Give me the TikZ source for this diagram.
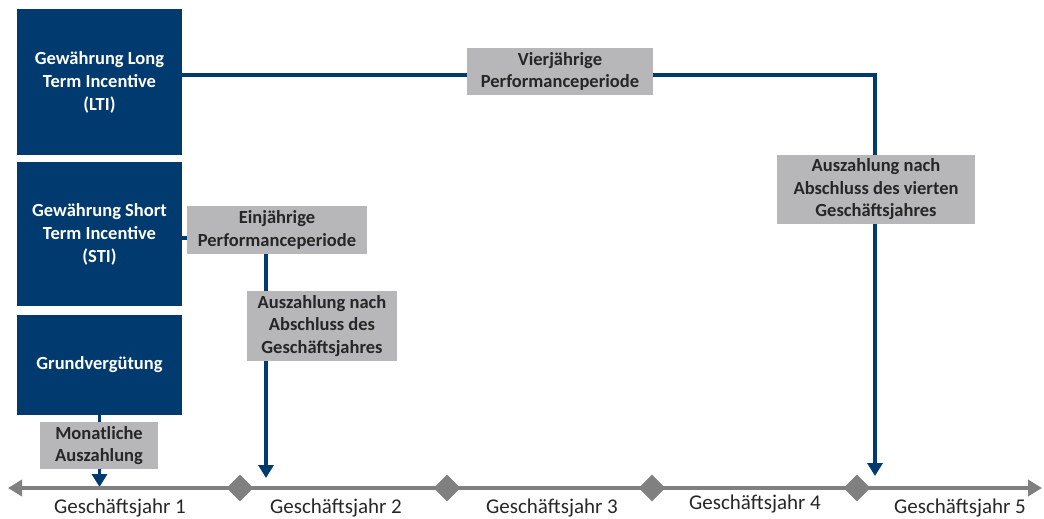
\documentclass[tikz,border=0pt]{standalone}
\usepackage{fontspec}
\setmainfont{Carlito}
\usetikzlibrary{positioning,shapes.geometric,arrows.meta,backgrounds}
\definecolor{kblau}{RGB}{0,58,110}
\definecolor{kgrau}{RGB}{183,183,185}
\definecolor{achse}{RGB}{128,128,128}

\begin{document}
\begin{tikzpicture}[x=1pt,y=-1pt,
    blaubox/.style={fill=kblau, text=white, font=\bfseries\fontsize{18.5}{23}\selectfont,
      align=center, minimum width=165pt, inner sep=0pt},
    graubox/.style={fill=kgrau, text=black!85, font=\bfseries\fontsize{18.5}{22.5}\selectfont,
      align=center, inner sep=0pt},
    raute/.style={diamond, fill=achse, minimum size=27pt, inner sep=0pt},
    jahr/.style={font=\fontsize{21}{24}\selectfont, text=black!85},
    zahlung/.style={kblau, line width=3.6pt, -{Triangle[width=15pt,length=13pt]}}]
    \useasboundingbox (0,0) rectangle (1044,519);

    % Verguetungsbestandteile
    \node[blaubox, minimum height=146pt] (lti) at (99.5,82) {Gewährung Long\\Term Incentive\\(LTI)};
    \node[blaubox, minimum height=144pt] (sti) at (99.5,234) {Gewährung Short\\Term Incentive\\(STI)};
    \node[blaubox, minimum height=100pt] (grund) at (99.5,365) {Grundvergütung};

    % Perioden und Auszahlungen
    \node[graubox, minimum width=186pt, minimum height=47pt] (vier) at (560,71.5) {Vierjährige\\Performanceperiode};
    \node[graubox, minimum width=198pt, minimum height=69pt] (vierten) at (876,189.5) {Auszahlung nach\\Abschluss des vierten\\Geschäftsjahres};
    \node[graubox, minimum width=180pt, minimum height=48pt] (ein) at (277,230) {Einjährige\\Performanceperiode};
    \node[graubox, minimum width=150pt, minimum height=70pt] (nach) at (322,326) {Auszahlung nach\\Abschluss des\\Geschäftsjahres};
    \node[graubox, minimum width=118pt, minimum height=47pt] (monat) at (99,445.5) {Monatliche\\Auszahlung};

    \coordinate (ziel1) at (99.5,487);
    \coordinate (ziel2) at (266,478);
    \coordinate (ziel4) at (875,476);

    % Zeitachse
    \coordinate (links) at (8,488);
    \coordinate (rechts) at (1042,488);
    \draw[achse, line width=4.5pt, {Triangle[width=16pt,length=14pt]}-{Triangle[width=16pt,length=14pt]}] (links) -- (rechts);
    \foreach \i/\x in {1/240,2/447,3/652,4/857}
      \node[raute] (r\i) at (\x,488) {};

    \node[jahr] (j1) at (120,508) {Geschäftsjahr 1};
    \node[jahr] (j2) at (336,508) {Geschäftsjahr 2};
    \node[jahr] (j3) at (552,508) {Geschäftsjahr 3};
    \node[jahr] (j4) at (755,504) {Geschäftsjahr 4};
    \node[jahr] (j5) at (960,508) {Geschäftsjahr 5};

    % Verbindungen hinter den Boxen
    \begin{scope}[on background layer]
      \draw[zahlung] ([yshift=7pt]lti.east) -- ([yshift=7pt]lti.east -| ziel4) -- (ziel4);
      \draw[kblau, line width=3.6pt] ([yshift=-4pt]sti.east) -- ([yshift=-4pt]sti.east -| ein.west);
      \draw[zahlung] (ein.south -| ziel2) -- (ziel2);
      \draw[zahlung] (grund.south) -- (ziel1);
    \end{scope}
\end{tikzpicture}
\end{document}
